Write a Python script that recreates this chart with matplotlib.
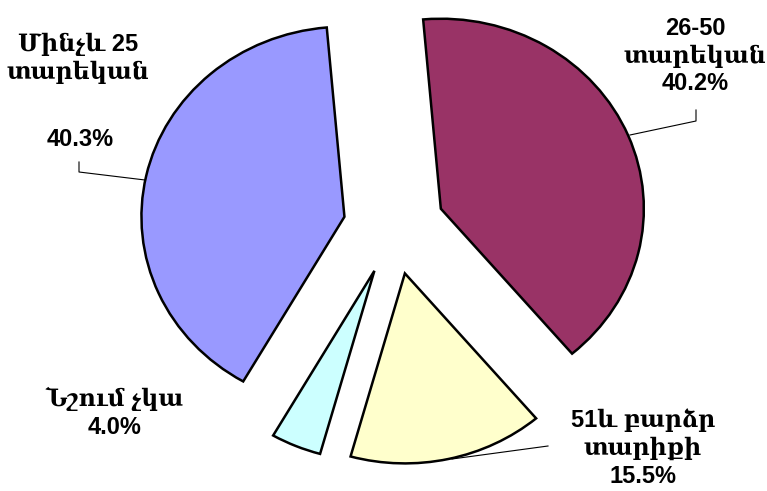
import matplotlib
matplotlib.use("Agg")
import matplotlib.pyplot as plt

# data
labels = ["26-50\nտարեկան", "51և բարձր\nտարիքի", "Նշում չկա", "Մինչև 25\nտարեկան"]
shares = [40.2, 15.5, 4.0, 40.3]
colors = ["#993366", "#FFFFCC", "#CCFFFF", "#9999FF"]

W, H = 767, 491
CX, CY = 394, 227      # pie centre in pixels
RX, RY = 203, 190      # the original pie is slightly wider than tall

fig = plt.figure(figsize=(W / 100, H / 100), dpi=100)
ax = fig.add_axes([0, 0, 1, 1])

ax.pie(shares, colors=colors, startangle=95, counterclock=False,
       explode=[0.25] * 4, radius=1.0,
       wedgeprops=dict(edgecolor="black", linewidth=1.8))

# pie() resets the limits, so set them afterwards
ax.set_aspect("auto")
ax.set_xlim(-CX / RX, (W - CX) / RX)
ax.set_ylim(-(H - CY) / RY, CY / RY)
ax.axis("off")


def px(x, y):
    # pixel position -> data coords
    return (x - CX) / RX, (CY - y) / RY


font = dict(family=["Liberation Sans", "DejaVu Serif", "DejaVu Sans"],
            fontweight="bold", fontsize=17, color="black",
            ha="center", va="center", linespacing=1.25)

ax.text(*px(695, 56), labels[0] + "\n" + f"{shares[0]:.1f}%", **font)
ax.text(*px(643, 448), labels[1] + "\n" + f"{shares[1]:.1f}%", **font)
ax.text(*px(115, 413), labels[2] + "\n" + f"{shares[2]:.1f}%", **font)
ax.text(*px(78, 58), labels[3], **font)
ax.text(*px(80, 140), f"{shares[3]:.1f}%", **font)

# leader lines
leaders = [
    [(696, 110), (696, 121), (630, 135)],
    [(548, 446), (452, 459)],
    [(79, 162), (79, 172), (145, 180)],
]
for pts in leaders:
    xs, ys = zip(*[px(x, y) for x, y in pts])
    ax.plot(xs, ys, color="black", linewidth=0.8)

fig.savefig("out.png", dpi=100, facecolor="white")
